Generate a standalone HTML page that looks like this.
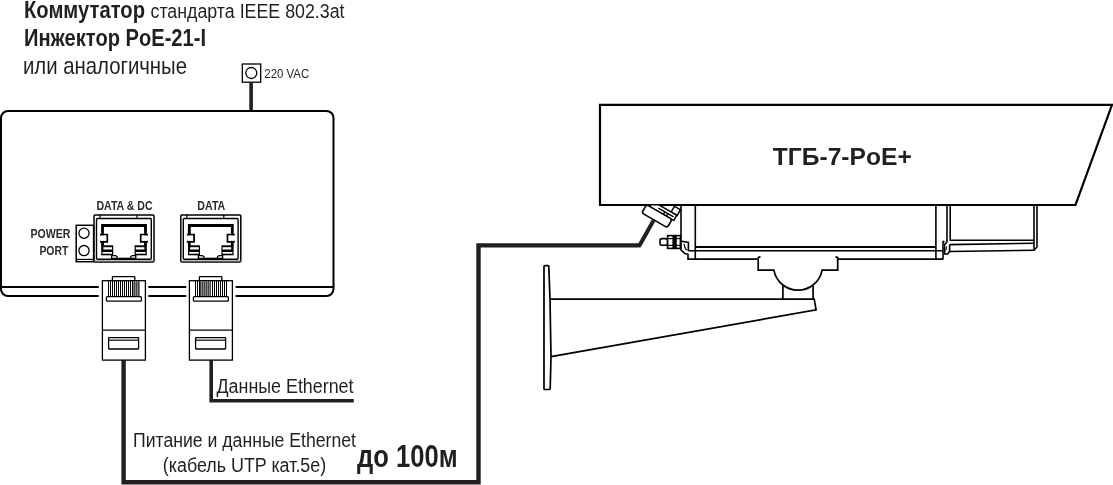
<!DOCTYPE html>
<html><head><meta charset="utf-8">
<style>
html,body{margin:0;padding:0;background:#fff;width:1113px;height:485px;overflow:hidden}
svg{display:block;will-change:transform}
text{font-family:"Liberation Sans",sans-serif;fill:#231f20}
.b{font-weight:bold}
</style></head><body>
<svg width="1113" height="485" viewBox="0 0 1113 485">
<defs>
<clipPath id="clipBelow"><rect x="600" y="205.5" width="100" height="40"/></clipPath>
<g id="port">
  <!-- outer + inner frame -->
  <rect x="94" y="215" width="60" height="47" rx="1" fill="none" stroke="#000" stroke-width="1.5"/>
  <rect x="96.5" y="218.5" width="54.8" height="40.8" rx="1" fill="none" stroke="#000" stroke-width="1.4"/>
  <line x1="94" y1="261" x2="154" y2="261" stroke="#777" stroke-width="1"/>
  <line x1="100" y1="215" x2="100" y2="218.5" stroke="#000" stroke-width="1.2"/>
  <line x1="137" y1="215" x2="137" y2="218.5" stroke="#000" stroke-width="1.2"/>
  <!-- socket -->
  <path d="M102.5,246 V224.1 M101.2,225.5 H146.8 M145.5,224.1 V246" fill="none" stroke="#000" stroke-width="2.8"/>
  <path d="M100,234.6 H107.2 V241.8 H100 M148,234.6 H140.8 V241.8 H148" fill="none" stroke="#000" stroke-width="1.9"/>
  <rect x="100.8" y="235.5" width="5.5" height="5.4" fill="#fff"/>
  <rect x="141.7" y="235.5" width="5.5" height="5.4" fill="#fff"/>
  <rect x="101.2" y="245.3" width="12" height="10" fill="#000"/>
  <rect x="103.4" y="247.2" width="8.6" height="2.3" fill="#fff"/>
  <rect x="102.4" y="252" width="9.6" height="1.7" fill="#fff"/>
  <rect x="134.6" y="245.3" width="12.2" height="10" fill="#000"/>
  <rect x="135.8" y="247.2" width="8.6" height="2.3" fill="#fff"/>
  <rect x="135.8" y="252" width="9.8" height="1.7" fill="#fff"/>
  <path d="M117,258.5 H130.8" fill="none" stroke="#000" stroke-width="1.6"/>
  <path d="M111.6,255 V258.5 H117.2 V257.5 Q117.2,255.6 115,255.6 H111.6 M130.6,258.5 V257.5 Q130.6,255.6 132.8,255.6 H135.8 V258.5 H130.6" fill="none" stroke="#000" stroke-width="1.3"/>
</g>
<g id="plug">
  <rect x="112.4" y="276.6" width="22.4" height="4" rx="0.5" fill="#fff" stroke="#000" stroke-width="1.3"/>
  <rect x="102.4" y="280.7" width="43" height="79.4" fill="#fff" stroke="#000" stroke-width="1.3"/>
  <line x1="102.4" y1="330.1" x2="145.4" y2="330.1" stroke="#000" stroke-width="1.3"/>
  <rect x="106.4" y="296.6" width="35" height="4.6" rx="1" fill="#fff" stroke="#000" stroke-width="1.3"/>
  <rect x="108.6" y="337.7" width="30" height="11.3" rx="0.5" fill="#fff" stroke="#000" stroke-width="1.3"/>
  <line x1="108.6" y1="340.2" x2="138.6" y2="340.2" stroke="#000" stroke-width="1.2"/>
</g>
</defs>

<!-- top texts -->
<text class="b" x="24" y="17.8" font-size="24" textLength="121" lengthAdjust="spacingAndGlyphs">Коммутатор</text>
<text x="150.5" y="17.8" font-size="20" textLength="194" lengthAdjust="spacingAndGlyphs">стандарта IEEE 802.3at</text>
<text class="b" x="24" y="46" font-size="24" textLength="182" lengthAdjust="spacingAndGlyphs">Инжектор PoE-21-I</text>
<text x="23" y="74" font-size="24" textLength="164" lengthAdjust="spacingAndGlyphs">или аналогичные</text>

<!-- power socket -->
<rect x="242.3" y="64" width="18.4" height="18.2" fill="none" stroke="#000" stroke-width="1.3"/>
<circle cx="251.3" cy="73" r="5.5" fill="none" stroke="#000" stroke-width="1.3"/>
<text x="264.3" y="77.8" font-size="13.6" textLength="44.9" lengthAdjust="spacingAndGlyphs">220 VAC</text>
<rect x="249.3" y="82.5" width="3.6" height="29" fill="#231f20"/>

<!-- injector box -->
<path d="M1,287 V118 A7,7 0 0 1 8,111 H326.5 A7,7 0 0 1 333.5,118 V287" fill="none" stroke="#000" stroke-width="2"/>
<path d="M98.7,287 H1 M148.3,287 H186.3 M235.6,287 H333.5" fill="none" stroke="#000" stroke-width="2"/>
<path d="M98.7,296 H8 A7,7 0 0 1 1,289 V286 M148.3,296 H186.3 M235.6,296 H326.5 A7,7 0 0 0 333.5,289 V286" fill="none" stroke="#000" stroke-width="2"/>

<!-- labels -->
<text class="b" x="30.5" y="237.9" font-size="12" textLength="40" lengthAdjust="spacingAndGlyphs" style="fill:#2a2a2a">POWER</text>
<text class="b" x="39.4" y="254.9" font-size="12" textLength="29" lengthAdjust="spacingAndGlyphs" style="fill:#2a2a2a">PORT</text>
<text class="b" x="96.5" y="209.6" font-size="12" textLength="56" lengthAdjust="spacingAndGlyphs" style="fill:#2a2a2a">DATA &amp; DC</text>
<text class="b" x="197.3" y="209.6" font-size="12" textLength="28" lengthAdjust="spacingAndGlyphs" style="fill:#2a2a2a">DATA</text>

<!-- power port block -->
<rect x="76.2" y="225.3" width="17.4" height="36.4" fill="none" stroke="#000" stroke-width="1.5"/>
<line x1="76.2" y1="259.4" x2="93.6" y2="259.4" stroke="#000" stroke-width="1.2"/>
<circle cx="84" cy="233.2" r="5.1" fill="none" stroke="#000" stroke-width="1.3"/>
<circle cx="84" cy="250.6" r="5.1" fill="none" stroke="#000" stroke-width="1.3"/>

<use href="#port"/>
<use href="#port" transform="translate(86.8,0)"/>

<!-- cables -->
<path d="M123.6,360 V482.2 H478.5 V245.4 H640.8" fill="none" stroke="#231f20" stroke-width="4.4" stroke-linejoin="miter"/>
<path d="M639.5,245.4 L653.5,220.5" stroke="#231f20" stroke-width="4" fill="none"/>
<path d="M211.2,360 V400.7 H353.8" fill="none" stroke="#231f20" stroke-width="3.6"/>

<!-- plugs -->
<use href="#plug"/>
<g fill="#000" shape-rendering="crispEdges"><rect x="108" y="281" width="1" height="15.3"/><rect x="110" y="281" width="1" height="15.3"/><rect x="112" y="281" width="1" height="15.3"/><rect x="114" y="281" width="1" height="15.3"/><rect x="116" y="281" width="1" height="15.3"/><rect x="118" y="281" width="1" height="15.3"/><rect x="120" y="281" width="1" height="15.3"/><rect x="122" y="281" width="1" height="15.3"/><rect x="124" y="281" width="1" height="15.3"/><rect x="126" y="281" width="1" height="15.3"/><rect x="128" y="281" width="1" height="15.3"/><rect x="130" y="281" width="1" height="15.3"/><rect x="132" y="281" width="1" height="15.3"/><rect x="133" y="281" width="1" height="15.3" fill="#8a8a8a"/><rect x="134" y="281" width="1" height="15.3" fill="#454545"/><rect x="135" y="281" width="1" height="15.3" fill="#8a8a8a"/><rect x="136" y="281" width="1" height="15.3" fill="#454545"/><rect x="137" y="281" width="1" height="15.3" fill="#8a8a8a"/><rect x="138" y="281" width="1" height="15.3" fill="#454545"/><rect x="139" y="281" width="1" height="15.3" fill="#8a8a8a"/></g>
<use href="#plug" transform="translate(87,0)"/>
<g fill="#000" shape-rendering="crispEdges"><rect x="195" y="281" width="1" height="15.3"/><rect x="197" y="281" width="1" height="15.3"/><rect x="199" y="281" width="1" height="15.3"/><rect x="200" y="281" width="1" height="15.3" fill="#454545"/><rect x="201" y="281" width="1" height="15.3" fill="#8a8a8a"/><rect x="202" y="281" width="1" height="15.3" fill="#454545"/><rect x="203" y="281" width="1" height="15.3" fill="#8a8a8a"/><rect x="204" y="281" width="1" height="15.3" fill="#454545"/><rect x="205" y="281" width="1" height="15.3" fill="#8a8a8a"/><rect x="206" y="281" width="1" height="15.3" fill="#454545"/><rect x="207" y="281" width="1" height="15.3" fill="#8a8a8a"/><rect x="208" y="281" width="1" height="15.3" fill="#454545"/><rect x="209" y="281" width="1" height="15.3" fill="#8a8a8a"/><rect x="210" y="281" width="1" height="15.3" fill="#454545"/><rect x="212" y="281" width="1" height="15.3"/><rect x="214" y="281" width="1" height="15.3"/><rect x="216" y="281" width="1" height="15.3"/><rect x="218" y="281" width="1" height="15.3"/><rect x="220" y="281" width="1" height="15.3"/><rect x="222" y="281" width="1" height="15.3"/><rect x="224" y="281" width="1" height="15.3"/><rect x="226" y="281" width="1" height="15.3"/></g>

<!-- bottom texts -->
<text x="216.5" y="392.8" font-size="20" textLength="137" lengthAdjust="spacingAndGlyphs">Данные Ethernet</text>
<text x="133" y="447" font-size="20" textLength="223" lengthAdjust="spacingAndGlyphs">Питание и данные Ethernet</text>
<text x="162.8" y="472" font-size="20" textLength="163.4" lengthAdjust="spacingAndGlyphs">(кабель UTP кат.5е)</text>
<text class="b" x="357" y="467" font-size="31" textLength="100.6" lengthAdjust="spacingAndGlyphs">до 100м</text>

<!-- camera housing -->
<path d="M600,104.8 H1112 L1075.5,205 H600 Z" fill="none" stroke="#000" stroke-width="2.2" stroke-linejoin="miter"/>
<text class="b" x="772.8" y="164.7" font-size="24.5" textLength="139" lengthAdjust="spacingAndGlyphs">ТГБ-7-PoE+</text>

<!-- camera body -->
<g fill="none" stroke="#000" stroke-width="1.6">
  <path d="M681,205 V249.8 L684.7,253.6 L688,254.3 V259.1 H757.3"/>
  <path d="M681.5,241.2 L688.4,242.4 V250.8"/>
  <path d="M684,243.8 L685.3,248.5 Q685.8,249.8 687.5,250" stroke-width="1.2"/>
  <line x1="695.3" y1="205" x2="695.3" y2="259.1"/>
  <line x1="695.3" y1="247" x2="935.9" y2="247" stroke-width="2.2"/>
  <line x1="688.3" y1="250.8" x2="943" y2="250.8"/>
  <path d="M838,259.1 H943"/>
  <line x1="935.9" y1="205" x2="935.9" y2="259.6"/>
  <line x1="943" y1="241" x2="943" y2="259.6"/>
  <line x1="947" y1="205" x2="947" y2="242.2"/>
  <line x1="950.2" y1="205" x2="950.2" y2="240.5"/>
  <path d="M943,241.3 L944.6,241.8"/>
  <path d="M947,242 L944.6,244.6 V254 H947.6 L949.6,251.5 V244.4"/>
  <path d="M950.2,240.2 H1034"/>
  <path d="M949.6,244.6 L1034,243.2" />
  <path d="M949.6,251.5 L1034,250.2"/>
  <path d="M946.5,246.5 L945.8,250.5" stroke-width="1.1"/>
  <line x1="1034" y1="205" x2="1034" y2="250.2"/>
  <path d="M1037,205 V247 L1034,250.2"/>
</g>

<!-- gland connector -->
<g clip-path="url(#clipBelow)">
<g transform="translate(642.6,213.4) rotate(30)" fill="#fff" stroke="#000" stroke-width="1.5">
  <rect x="24" y="-22" width="7" height="6.5"/>
  <rect x="3" y="-15.5" width="27.5" height="6"/>
  <path d="M11,-12.5 H28.5 M18.5,-12.5 V-9.5 M22,-12.5 V-9.5" fill="none" stroke-width="1.3"/>
  <rect x="-1" y="-9.5" width="29.5" height="9.5" rx="2.5" stroke-width="1.6"/>
</g>
</g>
<!-- nut -->
<g fill="#fff" stroke="#000" stroke-width="1.6">
  <rect x="660" y="238.6" width="7.6" height="6.6" rx="2"/>
  <rect x="667.6" y="235.6" width="12.8" height="12.8"/>
</g>
<rect x="672.4" y="235.6" width="4.4" height="12.8" fill="#000"/>
<line x1="667.6" y1="238.6" x2="680.4" y2="238.6" stroke="#000" stroke-width="1.2"/>
<line x1="667.6" y1="245.4" x2="680.4" y2="245.4" stroke="#000" stroke-width="1.2"/>

<!-- mount -->
<g fill="none" stroke="#000" stroke-width="1.7">
  <path d="M760.5,256.6 L758.2,257.5 V270.1 H773.9 A24.5,24.5 0 0 0 822.1,270.1 H837.7 V257.5 L835.5,256.6"/>
  <line x1="782.9" y1="286" x2="782.9" y2="299.1"/>
  <line x1="813.1" y1="286" x2="813.1" y2="299.1"/>
  <path d="M549.8,299.1 H814.2 L816.1,309.9 L551,356.7"/>
  <path d="M544,389.5 V266.5 Q544,265.6 545,265.6 H548 Q548.8,265.6 548.8,266.5 L550,299 L551,356.7 L550.2,388.6 Q550.2,389.5 549.3,389.5 H544.9 Q544,389.5 544,388.6"/>
</g>
</svg>
</body></html>
